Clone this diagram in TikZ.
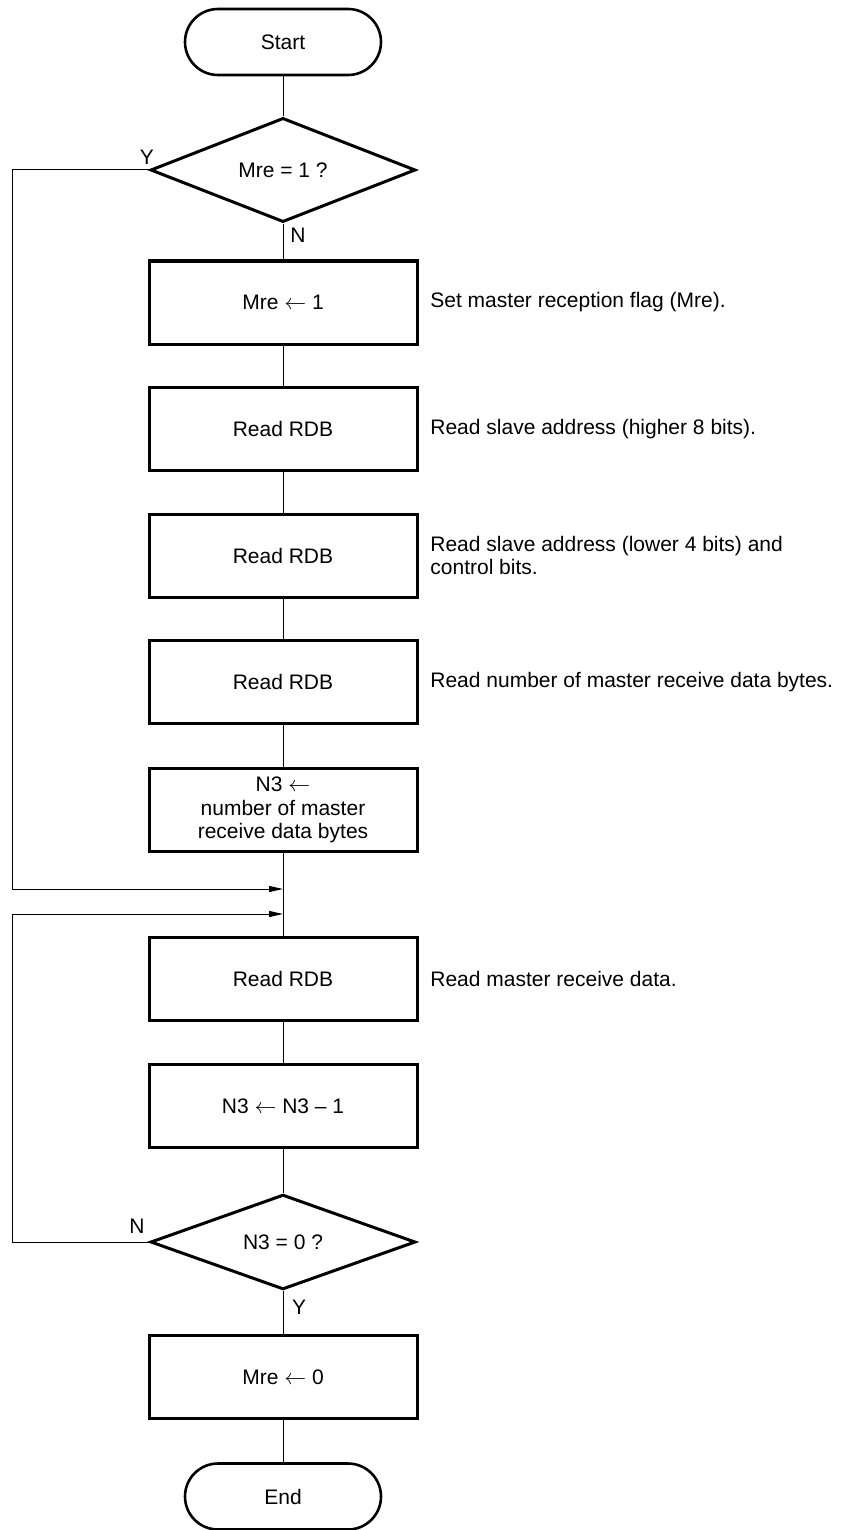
\documentclass[tikz,border=0pt]{standalone}
\usepackage{fontspec}
\setmainfont{Liberation Sans}
\usetikzlibrary{shapes.geometric,arrows.meta}

\begin{document}
\begin{tikzpicture}[
  x=0.5pt, y=-0.5pt,
  every node/.style={font=\fontsize{10.5}{11.75}\selectfont, inner sep=0pt},
  terminal/.style={draw, line width=1.3pt, rounded corners=16.5pt, minimum width=98pt, minimum height=33pt},
  procbox/.style={draw, line width=1.5pt, minimum width=134pt, minimum height=41.5pt, align=center},
  decision/.style={draw, diamond, line width=1.5pt, minimum width=132.5pt, minimum height=47pt},
  note/.style={anchor=west, align=left},
  flow/.style={line width=0.5pt},
  loopback/.style={line width=0.5pt, -{Triangle[length=7pt,width=3pt]}}
]
\useasboundingbox (0,0) rectangle (841,1530);

% main column
\node[terminal] (start) at (283,42) {Start};
\node[decision] (mre1) at (283,170) {Mre = 1 ?};
\node[procbox] (setmre) at (283,302.5) {Mre $\leftarrow$ 1};
\node[procbox] (rdb1) at (283,429) {Read RDB};
\node[procbox] (rdb2) at (283,555.5) {Read RDB};
\node[procbox] (rdb3) at (283,682) {Read RDB};
\node[procbox] (setn3) at (283,810) {N3 $\leftarrow$\\number of master\\receive data bytes};
\node[procbox] (rdb4) at (283,979) {Read RDB};
\node[procbox] (decn3) at (283,1106) {N3 $\leftarrow$ N3 -- 1};
\node[decision] (n3zero) at (283,1242) {N3 = 0 ?};
\node[procbox] (clrmre) at (283,1377) {Mre $\leftarrow$ 0};
\node[terminal] (end) at (283,1496.5) {End};

% comments
\node[note] (c1) at (430,302.5) {Set master reception flag (Mre).};
\node[note] (c2) at (430,429) {Read slave address (higher 8 bits).};
\node[note] (c3) at (430,555.5) {Read slave address (lower 4 bits) and\\control bits.};
\node[note] (c4) at (430,682) {Read number of master receive data bytes.};
\node[note] (c5) at (430,979) {Read master receive data.};

% branch labels
\node (y1) at (147,157) {Y};
\node (n1) at (298,235) {N};
\node (n2) at (137,1226) {N};
\node (y2) at (299,1307) {Y};

\foreach \a/\b in {start/mre1, mre1/setmre, setmre/rdb1, rdb1/rdb2, rdb2/rdb3,
  rdb3/setn3, setn3/rdb4, rdb4/decn3, decn3/n3zero, n3zero/clrmre, clrmre/end}
  \draw[flow] (\a) -- (\b);

% loops back into the column
\coordinate (join1) at (283,889);
\coordinate (join2) at (283,914);
\coordinate (rail) at (12,0);
\draw[loopback] (mre1.west) -| (rail |- join1) -- (join1);
\draw[loopback] (n3zero.west) -| (rail |- join2) -- (join2);
\end{tikzpicture}
\end{document}
